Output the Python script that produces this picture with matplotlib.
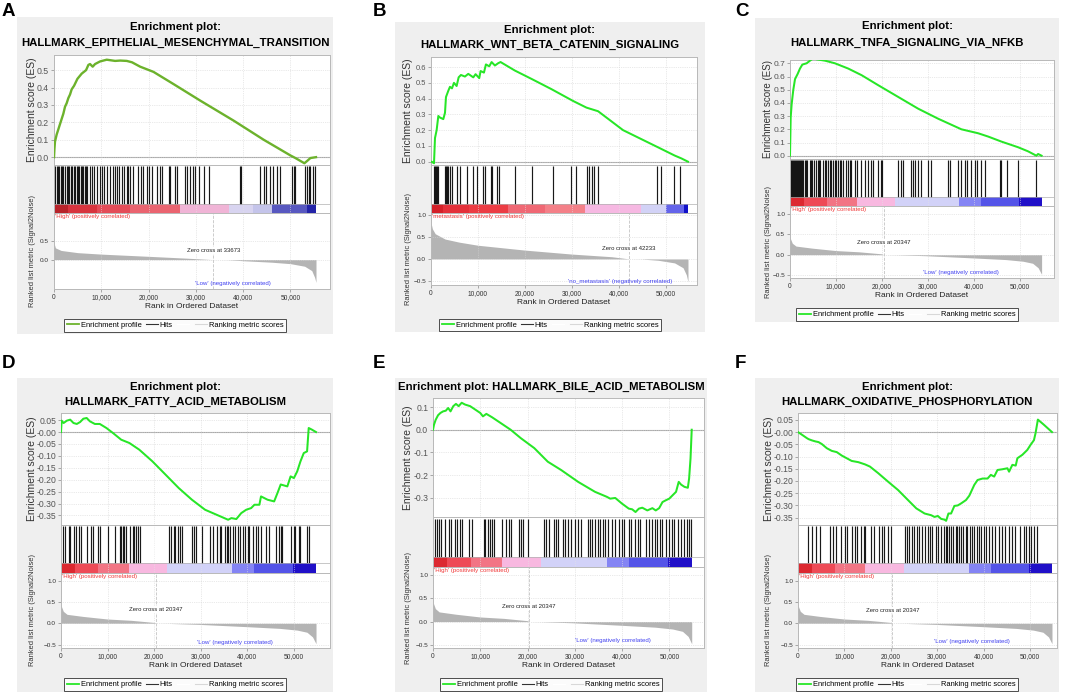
import numpy as np
import matplotlib
matplotlib.use('Agg')
import matplotlib.pyplot as plt
from matplotlib.lines import Line2D
from matplotlib.patches import Rectangle
from matplotlib.ticker import FuncFormatter

plt.rcParams['font.family'] = ['Liberation Sans', 'DejaVu Sans']

W, H = 1072, 695

# ---------------- data ----------------
# A: epithelial mesenchymal transition
a_title = ['Enrichment plot:', 'HALLMARK_EPITHELIAL_MESENCHYMAL_TRANSITION']
a_es = [(0, 0.0), (100, 0.05), (210, 0.09), (565, 0.13), (1270, 0.19), (1980, 0.25), (2330, 0.29),
        (2680, 0.31), (3040, 0.34), (3390, 0.36), (3740, 0.39), (4240, 0.41), (4950, 0.45),
        (5860, 0.48), (6780, 0.50), (7270, 0.53), (7620, 0.535), (8180, 0.52), (8680, 0.535),
        (9740, 0.55), (11150, 0.56), (12920, 0.553), (14000, 0.555), (15390, 0.553), (16500, 0.545),
        (18210, 0.52), (21040, 0.49), (25270, 0.42), (30920, 0.325), (37980, 0.21), (44340, 0.10),
        (49990, 0.01), (51040, -0.005), (52950, -0.035), (53600, -0.02), (54220, -0.005), (55400, 0.0)]
a_hits = [0, 280, 560, 850, 1130, 1410, 1690, 1980, 2400, 2680, 2970, 3250, 3530, 3810, 4240, 4520,
          4800, 5080, 5370, 5650, 5930, 6210, 6500, 6780, 7060, 7620, 7980, 8470, 9040, 9740, 10240,
          10660, 11150, 11860, 12430, 12920, 13270, 13840, 14330, 14830, 15390, 15740, 16100, 16800,
          17860, 18360, 18920, 19630, 20190, 20690, 21740, 22450, 22800, 24220, 24570, 25630, 25980,
          27750, 28100, 28800, 29370, 29860, 30570, 31630, 32690, 39390, 39450, 43630, 44340, 44900,
          45750, 46310, 47160, 47870, 50340, 50690, 51050, 53160, 53520, 53870, 54220, 54790, 55280]
a_metric = [(0, 0.45), (300, 0.32), (1500, 0.25), (5000, 0.19), (10000, 0.15), (20000, 0.09),
            (28000, 0.04), (33673, 0.0), (36600, -0.002), (40000, -0.03), (46000, -0.07),
            (50000, -0.11), (53000, -0.18), (54500, -0.3), (55100, -0.48), (55400, -0.62)]
a_zero = 33673
a_cb_edges = [0, 3000, 9000, 16000, 26600, 36900, 42000, 46100, 53600, 55400]

# B: wnt beta catenin
b_title = ['Enrichment plot:', 'HALLMARK_WNT_BETA_CATENIN_SIGNALING']
b_es = [(0, 0.0), (140, 0.0), (640, -0.01), (850, 0.15), (1200, 0.2), (1560, 0.29), (1910, 0.28),
        (2620, 0.27), (2980, 0.31), (3190, 0.41), (3690, 0.45), (4040, 0.475), (4470, 0.465),
        (4890, 0.5), (5460, 0.48), (5890, 0.535), (6380, 0.55), (7230, 0.54), (7940, 0.557),
        (9010, 0.535), (9500, 0.555), (10280, 0.53), (10570, 0.575), (11280, 0.565), (11700, 0.617),
        (12410, 0.605), (12910, 0.632), (13620, 0.61), (14330, 0.625), (14820, 0.632), (17870, 0.578),
        (21420, 0.525), (25670, 0.46), (30280, 0.385), (33120, 0.343), (35600, 0.32), (40920, 0.2),
        (48720, 0.086), (51910, 0.039), (53330, 0.021), (54750, 0.0)]
b_hits = [640, 850, 1060, 1350, 1560, 2980, 3190, 3480, 3690, 4040, 4540, 5460, 6170, 7590, 9010,
          9860, 11130, 11490, 12700, 12910, 13970, 14540, 17870, 21420, 25890, 29930, 30850, 33330,
          33690, 34400, 34680, 35600, 48160, 49080, 51700, 53120]
b_metric = [(0, 0.82), (300, 0.68), (900, 0.57), (3000, 0.45), (6000, 0.38), (10000, 0.31),
            (20000, 0.2), (30000, 0.11), (38500, 0.05), (42233, 0.0), (44800, -0.002),
            (48400, -0.03), (51900, -0.09), (53700, -0.2), (54400, -0.36), (54750, -0.52)]
b_zero = 42233
b_cb_edges = [0, 2500, 8000, 16500, 24300, 32800, 44800, 50100, 54000, 54750]

# C: TNFA signalling via NFKB
c_title = ['Enrichment plot:', 'HALLMARK_TNFA_SIGNALING_VIA_NFKB']
c_es = [(0, 0.0), (150, 0.29), (360, 0.39), (720, 0.5), (1090, 0.58), (1670, 0.62), (2170, 0.66),
        (2680, 0.69), (3120, 0.695), (3620, 0.70), (4350, 0.72), (5070, 0.738), (5800, 0.73),
        (7610, 0.72), (9780, 0.70), (12680, 0.66), (15580, 0.61), (19200, 0.534), (23550, 0.445),
        (27900, 0.356), (32250, 0.28), (37300, 0.2), (40940, 0.17), (43120, 0.145), (46000, 0.107),
        (49640, 0.064), (51810, 0.033), (53620, 0.0), (53990, 0.013), (54750, 0.0)]
c_hits = [0, 220, 440, 650, 870, 1090, 1300, 1520, 1740, 1960, 2180, 2390, 2610, 2830, 3190, 3480,
          3770, 4280, 4570, 4860, 5150, 5730, 6020, 6310, 6600, 7180, 7540, 7900, 8270, 8630, 8990,
          9350, 9720, 10080, 10440, 10800, 11170, 11530, 12250, 12620, 12980, 13340, 14070, 14650,
          15520, 16240, 16970, 17550, 18050, 19140, 19720, 20010, 23490, 24070, 24580, 26250, 26750,
          27260, 27840, 28420, 30020, 30600, 34370, 34800, 36540, 37120, 37990, 38570, 39440, 40170,
          40750, 41620, 42340, 45600, 45970, 47270, 49590, 53580]

# D: fatty acid metabolism
d_title = ['Enrichment plot:', 'HALLMARK_FATTY_ACID_METABOLISM']
d_es = [(0, 0.0), (140, 0.048), (560, 0.038), (1270, 0.048), (1980, 0.052), (2680, 0.038),
        (3390, 0.034), (4100, 0.042), (4800, 0.056), (5510, 0.059), (6210, 0.045), (7270, 0.034),
        (8330, 0.034), (9750, 0.017), (11160, -0.004), (12920, -0.032), (14690, -0.046),
        (16810, -0.074), (19630, -0.123), (22460, -0.179), (25280, -0.235), (28110, -0.284),
        (30930, -0.326), (33760, -0.35), (35880, -0.368), (36580, -0.361), (37640, -0.365),
        (38700, -0.34), (39760, -0.326), (40820, -0.319), (41530, -0.305), (42590, -0.305),
        (42940, -0.27), (43650, -0.277), (44350, -0.284), (45760, -0.291), (46470, -0.256),
        (47170, -0.22), (48590, -0.228), (49290, -0.186), (50000, -0.193), (50710, -0.165),
        (51410, -0.123), (52120, -0.088), (52830, -0.081), (53180, 0.017), (53880, 0.01), (54750, 0.0)]
d_hits = [350, 780, 1620, 1980, 2890, 3180, 3880, 4310, 5510, 6420, 6920, 7980, 8330, 10100, 11510,
          12570, 12920, 13270, 13630, 13980, 14900, 15390, 15740, 16100, 16590, 17010, 23160, 23510,
          24220, 24570, 25060, 25630, 25980, 28100, 28450, 29020, 30220, 31980, 32690, 33390, 34100,
          34450, 35160, 35650, 35870, 36220, 36920, 37280, 37980, 38340, 39040, 39400, 40100, 40450,
          41160, 41870, 42220, 42920, 43980, 44690, 46100, 46810, 47160, 47510, 49280, 49980, 50340,
          51040, 51400, 52810, 53160]

# E: bile acid metabolism
e_title = ['Enrichment plot: HALLMARK_BILE_ACID_METABOLISM']
e_es = [(0, 0.0), (210, 0.022), (570, 0.044), (1070, 0.064), (1570, 0.074), (2140, 0.081),
        (2710, 0.084), (3210, 0.096), (3710, 0.081), (4290, 0.104), (4860, 0.114), (5430, 0.104),
        (6070, 0.119), (6790, 0.111), (7860, 0.104), (8930, 0.089), (10000, 0.074), (10570, 0.059),
        (11290, 0.07), (12500, 0.055), (14290, 0.03), (16430, 0.0), (18570, -0.037), (21430, -0.081),
        (24290, -0.141), (27140, -0.178), (30710, -0.23), (34290, -0.274), (36790, -0.296),
        (37500, -0.304), (38570, -0.301), (40000, -0.326), (41430, -0.348), (42140, -0.351),
        (42860, -0.363), (43570, -0.348), (44290, -0.344), (45360, -0.356), (46430, -0.346),
        (47140, -0.356), (47860, -0.346), (48570, -0.319), (49290, -0.311), (50000, -0.304),
        (50710, -0.289), (51430, -0.274), (52000, -0.23), (52500, -0.242), (53210, -0.252),
        (53930, -0.256), (54200, -0.215), (54500, -0.126), (54750, 0.0)]
e_hits = [360, 860, 1290, 1790, 2500, 3430, 3710, 4640, 5000, 5710, 6070, 7710, 8210, 10710, 11070,
          11570, 12000, 12500, 12850, 14640, 15350, 16070, 16420, 18210, 18560, 19140, 20130, 23420,
          23920, 24630, 25700, 26060, 26420, 27490, 27850, 28560, 29130, 29990, 30700, 31270, 32700,
          33200, 33700, 34270, 34990, 35340, 36060, 36410, 37130, 37980, 38410, 39270, 39980, 40340,
          41410, 41980, 42840, 43410, 43910, 44980, 45700, 46410, 46980, 47480, 47980, 48550, 49270,
          49980, 50550, 51050, 51770, 52480, 53190, 53690, 54260, 54620]

# F: oxidative phosphorylation
f_title = ['Enrichment plot:', 'HALLMARK_OXIDATIVE_PHOSPHORYLATION']
f_es = [(0, 0.0), (860, -0.011), (1930, -0.025), (2290, -0.029), (3000, -0.034), (3710, -0.038),
        (4430, -0.041), (5140, -0.049), (6210, -0.066), (7290, -0.077), (8360, -0.082),
        (9430, -0.096), (10500, -0.107), (11570, -0.118), (13000, -0.123), (14430, -0.132),
        (15500, -0.141), (17290, -0.168), (19430, -0.203), (21570, -0.237), (23710, -0.278),
        (25500, -0.312), (27290, -0.333), (28710, -0.34), (29430, -0.347), (30140, -0.343),
        (30860, -0.355), (31570, -0.358), (31930, -0.363), (32430, -0.333), (33000, -0.333),
        (33710, -0.302), (34430, -0.3), (35140, -0.292), (36210, -0.278), (36930, -0.26),
        (38000, -0.216), (38710, -0.196), (39790, -0.19), (40860, -0.19), (41570, -0.175),
        (42290, -0.182), (43000, -0.155), (44070, -0.152), (45140, -0.148), (45500, -0.162),
        (46210, -0.134), (46930, -0.137), (47290, -0.107), (48360, -0.093), (49430, -0.073),
        (50140, -0.052), (50860, -0.033), (51210, -0.004), (51710, 0.051), (53000, 0.03), (54750, 0.0)]
f_hits = [2070, 2930, 3780, 4710, 6850, 7570, 8280, 9350, 10070, 10640, 11640, 12210, 12780, 13640,
          14210, 14490, 15780, 16490, 17560, 18060, 18640, 19350, 20060, 23060, 23490, 23990, 24490,
          25060, 25630, 26130, 26630, 27350, 27920, 28490, 28990, 29700, 30200, 30920, 31490, 31840,
          32200, 32560, 32920, 33490, 33990, 34340, 34700, 35060, 35630, 36130, 36490, 37060, 37560,
          37910, 38480, 38980, 39480, 40060, 40630, 41130, 41840, 42550, 43270, 43980, 44700, 45410,
          46120, 46840, 47910, 48620, 49190, 49690, 50190, 50910, 51480]

# C-F share the same ranked list (High vs Low)
cf_metric = [(0, 0.42), (500, 0.28), (1300, 0.21), (4800, 0.16), (10000, 0.10), (15000, 0.07),
             (20000, 0.02), (20347, 0.0), (23000, -0.003), (29500, -0.025), (40000, -0.08),
             (47000, -0.12), (50700, -0.16), (52800, -0.21), (54000, -0.32), (54750, -0.48)]
cf_zero = 20347
cf_cb_edges = [0, 3000, 8000, 14500, 22800, 36800, 41500, 49800, 54750]

# ---------------- styles ----------------
a_cb_colors = ['#b8232a', '#d8343e', '#e44c58', '#ea6470', '#f0b4d6', '#d8d4f0', '#c4c4ea', '#5858c0', '#2424a8']
b_cb_colors = ['#d42028', '#e4303a', '#ec3c44', '#f06874', '#f48088', '#f6b8e2', '#d2d2f6', '#6464ea', '#1010c8']
cf_cb_colors = ['#dc2830', '#ee4a56', '#f27484', '#f8b8e0', '#d2d2f8', '#8484f4', '#5454e8', '#2010c8']
GREEN = '#27e627'
OLIVE = '#6cb22c'
GRID = '#d4d4d4'
SPINE = '#b8b8b8'


def rect(x0, y0, x1, y1):
    return [x0 / W, 1 - y1 / H, (x1 - x0) / W, (y1 - y0) / H]


def comma(v, pos):
    return '{:,}'.format(int(v))


fig = plt.figure(figsize=(W / 100, H / 100), dpi=100)


def draw_panel(letter, lay, title, es, hits, metric, zero, cb_edges, cb_colors,
               pos_lab, neg_lab, color):
    bx0, by0, bx1, by1 = lay['box']
    fig.add_artist(Rectangle((bx0 / W, 1 - by1 / H), (bx1 - bx0) / W, (by1 - by0) / H,
                             transform=fig.transFigure, facecolor='#efefef', edgecolor='none', zorder=-5))
    fig.text(lay['letter'][0] / W, 1 - lay['letter'][1] / H, letter, fontsize=13.5,
             fontweight='bold', ha='left', va='top')
    cx = (bx0 + bx1) / 2
    for line, ty in zip(title, lay['title_y']):
        fig.text(cx / W, 1 - ty / H, line, fontsize=8.2, fontweight='bold', ha='center', va='center')

    x0, x1 = lay['x']
    xmax = lay['xmax']
    xt = np.arange(0, 50001, 10000)

    # enrichment score
    e_top, e_bot = lay['es']
    ax = fig.add_axes(rect(x0, e_top, x1, e_bot))
    ex = [p[0] for p in es]
    ey = [p[1] for p in es]
    ax.axhline(0, color='#a8a8a8', lw=0.8, zorder=1)
    ax.plot(ex, ey, color=color, lw=lay.get('lw', 1.45), zorder=3)
    ax.set_xlim(0, xmax)
    ax.set_ylim(*lay['es_ylim'])
    ax.set_xticks(xt)
    ax.set_yticks(lay['es_ticks'])
    ax.yaxis.set_major_formatter(FuncFormatter(lambda v, p, f=lay['es_fmt']: f.format(v)))
    ax.tick_params(axis='x', length=0, labelbottom=False)
    ax.tick_params(axis='y', length=2, width=0.5, color='#888888', labelsize=lay['es_fs'],
                   labelcolor='#555555', pad=1.5)
    ax.grid(True, ls=':', lw=0.5, color=GRID)
    for s in ax.spines.values():
        s.set_color(SPINE)
        s.set_linewidth(0.7)
    fig.text((x0 - lay['ylab_dx']) / W, 1 - (e_top + e_bot) / 2 / H, 'Enrichment score (ES)',
             rotation=90, ha='center', va='center', fontsize=lay['ylab_fs'], color='#333333')

    # hits + colour bar
    h_top, h_bot = lay['hits']
    cb_frac = (h_bot - lay['cb_top']) / (h_bot - h_top)
    axh = fig.add_axes(rect(x0, h_top, x1, h_bot))
    axh.vlines(hits, cb_frac, 0.97, color='black', lw=0.85, alpha=0.9)
    spans = [(cb_edges[i], cb_edges[i + 1] - cb_edges[i]) for i in range(len(cb_edges) - 1)]
    axh.broken_barh(spans, (0, cb_frac), facecolors=cb_colors, edgecolor='none')
    axh.axhline(cb_frac, color='#b0b0b0', lw=0.5)
    axh.set_xlim(0, xmax)
    axh.set_ylim(0, 1)
    axh.set_xticks(xt)
    axh.set_yticks([])
    axh.tick_params(axis='x', length=0, labelbottom=False)
    axh.grid(True, axis='x', ls=':', lw=0.5, color='#e4e4e4')
    for s in axh.spines.values():
        s.set_color(SPINE)
        s.set_linewidth(0.7)

    # ranked list metric
    r_top, r_bot = lay['rank']
    axr = fig.add_axes(rect(x0, r_top, x1, r_bot))
    mx = [p[0] for p in metric]
    my = [p[1] for p in metric]
    axr.fill_between(mx, my, 0, color='#b4b4b4', lw=0)
    axr.axvline(zero, color='#c4c4c4', ls='--', lw=0.6)
    axr.set_xlim(0, xmax)
    axr.set_ylim(*lay['rank_ylim'])
    axr.set_xticks(xt)
    axr.xaxis.set_major_formatter(FuncFormatter(comma))
    axr.set_yticks(lay['rank_ticks'])
    axr.tick_params(axis='x', length=2, width=0.5, color='#888888', labelsize=4.8,
                    labelcolor='#333333', pad=1.5)
    axr.tick_params(axis='y', length=2, width=0.5, color='#888888', labelsize=4.6,
                    labelcolor='#333333', pad=1.5)
    axr.grid(True, ls=':', lw=0.5, color=GRID)
    for s in axr.spines.values():
        s.set_color(SPINE)
        s.set_linewidth(0.7)
    axr.set_xlabel('Rank in Ordered Dataset', fontsize=6, color='#222222', labelpad=1.5)
    axr.text(0.004, 0.99, pos_lab, transform=axr.transAxes, ha='left', va='top',
             fontsize=4.4, color='#f03838')
    axr.text(zero, lay['zero_y'], 'Zero cross at %d' % zero, ha='center', va='center',
             fontsize=4.3, color='#222222',
             bbox=dict(facecolor='white', edgecolor='none', pad=0.5))
    axr.text(lay['neg_xy'][0], lay['neg_xy'][1], neg_lab, ha='center', va='center',
             fontsize=4.4, color='#4040f0')
    fig.text((x0 - lay['ylab_dx']) / W, 1 - (r_top + r_bot) / 2 / H,
             'Ranked list metric (Signal2Noise)', rotation=90, ha='center', va='center',
             fontsize=5.4, color='#333333')

    handles = [Line2D([], [], color=color, lw=1.3), Line2D([], [], color='#333333', lw=0.8),
               Line2D([], [], color='white', lw=0.8), Line2D([], [], color='#d8d8d8', lw=0.8)]
    labels = ['Enrichment profile', 'Hits', '', 'Ranking metric scores']
    lg = fig.legend(handles, labels, loc='center', ncol=4,
                    bbox_to_anchor=(cx / W, 1 - lay['leg_y'] / H), fontsize=5.4, frameon=True,
                    fancybox=False, borderpad=0.35, handlelength=1.6, handletextpad=0.3,
                    columnspacing=0.5, borderaxespad=0)
    lg.get_frame().set_edgecolor('#222222')
    lg.get_frame().set_linewidth(0.7)


lay_a = dict(box=(17, 17, 333, 334), letter=(2, 3), title_y=(27, 43), x=(54, 330), xmax=58360,
             es=(55, 165), hits=(165, 213), cb_top=204, rank=(213, 289),
             es_ylim=(-0.045, 0.587), es_ticks=np.arange(0, 0.51, 0.1), es_fmt='{:.1f}', es_fs=6.3,
             rank_ylim=(-0.8, 1.27), rank_ticks=[0.0, 0.5], zero_y=0.25, neg_xy=(37850, -0.65),
             ylab_dx=22, ylab_fs=7.5, leg_y=325.5, lw=1.7)
lay_b = dict(box=(395, 22, 705, 332), letter=(373, 3), title_y=(30, 45), x=(431, 697), xmax=56670,
             es=(57, 165), hits=(165, 213), cb_top=204, rank=(213, 285),
             es_ylim=(-0.021, 0.664), es_ticks=np.arange(0, 0.61, 0.1), es_fmt='{:.1f}', es_fs=5.4,
             rank_ylim=(-0.59, 1.04), rank_ticks=[-0.5, 0.0, 0.5, 1.0], zero_y=0.23,
             neg_xy=(40300, -0.52), ylab_dx=23, ylab_fs=7.5, leg_y=325)
lay_c = dict(box=(755, 18, 1059, 322), letter=(735, 3), title_y=(26, 43), x=(790, 1054), xmax=57450,
             es=(60, 159), hits=(159, 206), cb_top=197, rank=(206, 278),
             es_ylim=(-0.025, 0.725), es_ticks=np.arange(0, 0.71, 0.1), es_fmt='{:.1f}', es_fs=6,
             rank_ylim=(-0.57, 1.19), rank_ticks=[-0.5, 0.0, 0.5, 1.0], zero_y=0.31,
             neg_xy=(37300, -0.43), ylab_dx=22, ylab_fs=7, leg_y=314.5)
lay_d = dict(box=(17, 378, 333, 692), letter=(2, 355), title_y=(387, 402), x=(61, 330), xmax=57750,
             es=(413, 525), hits=(525, 573), cb_top=563, rank=(573, 648),
             es_ylim=(-0.39, 0.08), es_ticks=np.arange(-0.35, 0.051, 0.05), es_fmt='{:.2f}', es_fs=6.2,
             rank_ylim=(-0.58, 1.18), rank_ticks=[-0.5, 0.0, 0.5, 1.0], zero_y=0.32,
             neg_xy=(37300, -0.44), ylab_dx=29, ylab_fs=7.5, leg_y=684.5)
lay_e = dict(box=(395, 378, 707, 692), letter=(373, 355), title_y=(387,), x=(433, 704), xmax=57350,
             es=(398, 517), hits=(517, 567), cb_top=557, rank=(567, 648),
             es_ylim=(-0.385, 0.14), es_ticks=np.arange(-0.3, 0.11, 0.1), es_fmt='{:.1f}', es_fs=6.2,
             rank_ylim=(-0.57, 1.18), rank_ticks=[-0.5, 0.0, 0.5, 1.0], zero_y=0.32,
             neg_xy=(38100, -0.41), ylab_dx=25, ylab_fs=7.5, leg_y=684.5)
lay_f = dict(box=(755, 378, 1059, 692), letter=(735, 355), title_y=(387, 402), x=(798, 1057), xmax=55830,
             es=(413, 525), hits=(525, 573), cb_top=563, rank=(573, 648),
             es_ylim=(-0.38, 0.078), es_ticks=np.arange(-0.35, 0.051, 0.05), es_fmt='{:.2f}', es_fs=6.2,
             rank_ylim=(-0.58, 1.18), rank_ticks=[-0.5, 0.0, 0.5, 1.0], zero_y=0.31,
             neg_xy=(37400, -0.42), ylab_dx=29, ylab_fs=7.5, leg_y=684.5)

hi = "'High' (positively correlated)"
lo = "'Low' (negatively correlated)"
draw_panel('A', lay_a, a_title, a_es, a_hits, a_metric, a_zero, a_cb_edges, a_cb_colors, hi, lo, OLIVE)
draw_panel('B', lay_b, b_title, b_es, b_hits, b_metric, b_zero, b_cb_edges, b_cb_colors,
           "'metastasis' (positively correlated)", "'no_metastasis' (negatively correlated)", GREEN)
draw_panel('C', lay_c, c_title, c_es, c_hits, cf_metric, cf_zero, cf_cb_edges, cf_cb_colors, hi, lo, GREEN)
draw_panel('D', lay_d, d_title, d_es, d_hits, cf_metric, cf_zero, cf_cb_edges, cf_cb_colors, hi, lo, GREEN)
draw_panel('E', lay_e, e_title, e_es, e_hits, cf_metric, cf_zero, cf_cb_edges, cf_cb_colors, hi, lo, GREEN)
draw_panel('F', lay_f, f_title, f_es, f_hits, cf_metric, cf_zero, cf_cb_edges, cf_cb_colors, hi, lo, GREEN)

fig.savefig('out.png', dpi=100)
